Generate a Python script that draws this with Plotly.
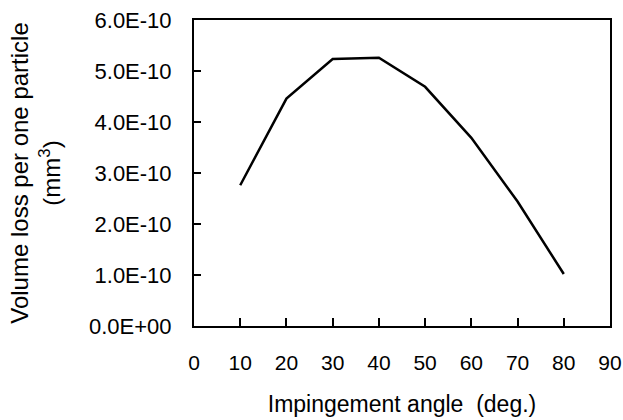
import plotly.graph_objects as go

angles = [10, 20, 30, 40, 50, 60, 70, 80]
volume_loss = [2.76e-10, 4.46e-10, 5.235e-10, 5.26e-10, 4.69e-10, 3.69e-10, 2.44e-10, 1.02e-10]

x_ticks = [0, 10, 20, 30, 40, 50, 60, 70, 80, 90]
y_ticks = [0, 1e-10, 2e-10, 3e-10, 4e-10, 5e-10, 6e-10]
y_tick_labels = ["0.0E+00", "1.0E-10", "2.0E-10", "3.0E-10", "4.0E-10", "5.0E-10", "6.0E-10"]

FONT = "Liberation Sans, Arial, sans-serif"

fig = go.Figure()
fig.add_trace(go.Scatter(
    x=angles, y=volume_loss, mode="lines",
    line=dict(color="black", width=2.5),
    showlegend=False,
))

fig.update_layout(
    width=623, height=420,
    margin=dict(l=194, r=13, t=20, b=94, autoexpand=False),
    paper_bgcolor="white", plot_bgcolor="white",
    font=dict(family=FONT, color="black"),
)

fig.update_xaxes(
    range=[0, 90], tickvals=x_ticks, ticktext=[str(v) for v in x_ticks],
    ticks="inside", ticklen=8, tickwidth=1.5, tickcolor="black",
    showline=True, linecolor="black", linewidth=2, mirror=True,
    showgrid=False, zeroline=False, automargin=False,
    tickfont=dict(size=21, family=FONT, color="black"),
    ticklabelstandoff=17,
    title=dict(text="Impingement angle  (deg.)", font=dict(size=23, family=FONT, color="black"), standoff=23),
)

fig.update_yaxes(
    range=[0, 6e-10], tickvals=y_ticks, ticktext=y_tick_labels,
    ticks="inside", ticklen=7, tickwidth=1.5, tickcolor="black",
    showline=True, linecolor="black", linewidth=2, mirror=True,
    showgrid=False, zeroline=False, automargin=False,
    tickfont=dict(size=22, family=FONT, color="black"),
    ticklabelstandoff=16,
    title=dict(text="Volume loss per one particle<br>(mm<sup>3</sup>)", font=dict(size=24, family=FONT, color="black"), standoff=22),
)

fig.write_html("out.html")
